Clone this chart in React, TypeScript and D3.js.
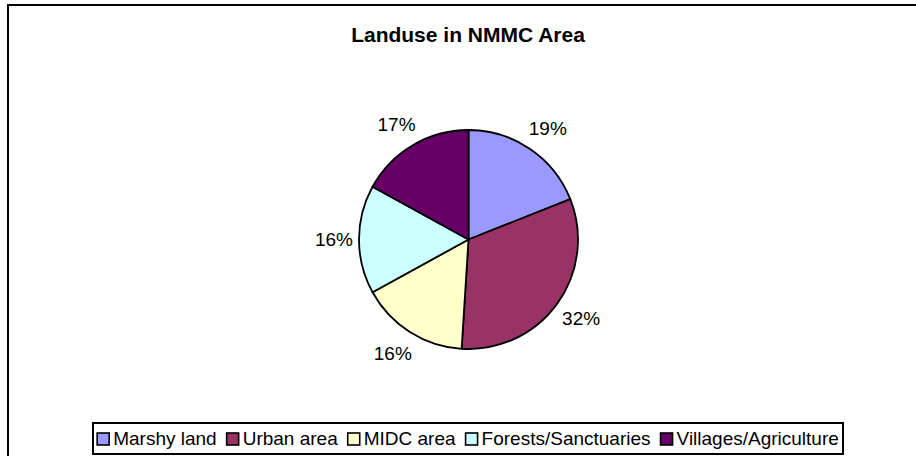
import React, { useEffect, useRef } from "react";
import * as d3 from "d3";

const categories = ["Marshy land", "Urban area", "MIDC area", "Forests/Sanctuaries", "Villages/Agriculture"];
const values = [19, 32, 16, 16, 17];
const colors = ["#9999FF", "#993366", "#FFFFCC", "#CCFFFF", "#660066"];
const title = "Landuse in NMMC Area";

const W = 916;
const H = 456;
const FONT = "'Liberation Sans', Arial, sans-serif";

export default function App() {
  const ref = useRef<SVGSVGElement>(null);

  useEffect(() => {
    const svg = d3.select(ref.current);
    svg.selectAll("*").remove();

    svg.append("rect").attr("x", 0).attr("y", 0).attr("width", W).attr("height", H).attr("fill", "#fff");

    // outer frame (extends past right/bottom edges)
    svg.append("rect")
      .attr("x", 8).attr("y", 5).attr("width", W + 20).attr("height", H + 20)
      .attr("fill", "none").attr("stroke", "#000").attr("stroke-width", 2);

    svg.append("text")
      .attr("x", 468).attr("y", 42)
      .attr("text-anchor", "middle")
      .attr("font-family", FONT).attr("font-size", 21).attr("font-weight", "bold")
      .text(title);

    const cx = 468.5, cy = 239.5, r = 109.5;
    const pie = d3.pie<number>().sort(null).value((d) => d);
    const arcs = pie(values);
    const arc = d3.arc<d3.PieArcDatum<number>>().innerRadius(0).outerRadius(r);
    const total = d3.sum(values);

    const g = svg.append("g").attr("transform", `translate(${cx},${cy})`);
    g.selectAll("path.slice")
      .data(arcs)
      .join("path")
      .attr("class", "slice")
      .attr("d", arc as any)
      .attr("fill", (_, i) => colors[i])
      .attr("stroke", "#000")
      .attr("stroke-width", 1.8)
      .attr("stroke-linejoin", "round");

    const labelR = r + 25;
    g.selectAll("text.pct")
      .data(arcs)
      .join("text")
      .attr("class", "pct")
      .attr("x", (d) => {
        const a = (d.startAngle + d.endAngle) / 2;
        return labelR * Math.sin(a) + 8 * Math.sin(a) * Math.abs(Math.cos(a));
      })
      .attr("y", (d) => -labelR * Math.cos((d.startAngle + d.endAngle) / 2) + 6.8)
      .attr("text-anchor", "middle")
      .attr("font-family", FONT).attr("font-size", 19)
      .text((d) => `${Math.round((d.value / total) * 100)}%`);

    // legend
    const lx0 = 93, lx1 = 843, ly0 = 423, ly1 = 454;
    svg.append("rect")
      .attr("x", lx0).attr("y", ly0).attr("width", lx1 - lx0).attr("height", ly1 - ly0)
      .attr("fill", "#fff").attr("stroke", "#000").attr("stroke-width", 2);

    const lg = svg.append("g");
    const sq = 12, gapSq = 4, gapItem = 10;
    const items = categories.map((c, i) => {
      const t = lg.append("text")
        .attr("font-family", FONT).attr("font-size", 19)
        .attr("y", 445)
        .text(c);
      const w = (t.node() as SVGTextElement).getComputedTextLength();
      return { t, w, i };
    });
    const totalW = d3.sum(items, (d) => sq + gapSq + d.w) + gapItem * (items.length - 1);
    let x = (lx0 + lx1) / 2 - totalW / 2;
    items.forEach((it) => {
      lg.append("rect")
        .attr("x", x).attr("y", 433).attr("width", sq).attr("height", sq)
        .attr("fill", colors[it.i]).attr("stroke", "#000").attr("stroke-width", 1.6);
      it.t.attr("x", x + sq + gapSq);
      x += sq + gapSq + it.w + gapItem;
    });
  }, []);

  return (
    <svg
      ref={ref}
      width={W}
      height={H}
      style={{ position: "absolute", left: 0, top: 0, display: "block" }}
    />
  );
}
